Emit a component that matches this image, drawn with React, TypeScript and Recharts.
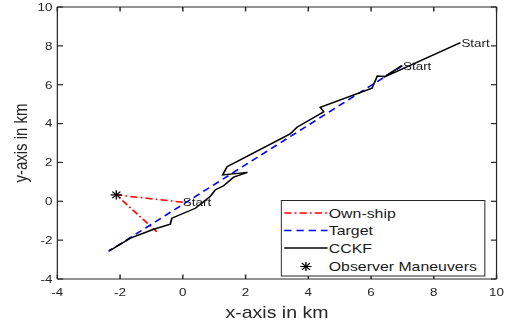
import { ComposedChart, Line, Scatter, XAxis, YAxis, Legend, ReferenceLine } from "recharts";

// ── data (km) ──────────────────────────────────────────────────────────────
const X_TICKS = [-4, -2, 0, 2, 4, 6, 8, 10];
const Y_TICKS = [-4, -2, 0, 2, 4, 6, 8, 10];

const OWN_SHIP = [
  { x: 0.0, y: -0.05 },
  { x: -2.12, y: 0.33 },
  { x: -0.83, y: -1.57 },
];

const TARGET = [
  { x: 7.0, y: 6.98 },
  { x: -2.37, y: -2.58 },
];

const CCKF = [
  { x: 8.85, y: 8.17 },
  { x: 6.4, y: 6.38 },
  { x: 6.98, y: 6.98 },
  { x: 6.45, y: 6.42 },
  { x: 6.2, y: 6.45 },
  { x: 6.03, y: 5.82 },
  { x: 4.38, y: 4.84 },
  { x: 4.49, y: 4.61 },
  { x: 3.64, y: 3.81 },
  { x: 3.42, y: 3.47 },
  { x: 1.83, y: 2.13 },
  { x: 1.41, y: 1.78 },
  { x: 1.27, y: 1.36 },
  { x: 2.06, y: 1.49 },
  { x: 1.62, y: 1.24 },
  { x: 1.3, y: 0.8 },
  { x: 1.03, y: 0.58 },
  { x: 0.87, y: 0.24 },
  { x: 0.4, y: -0.36 },
  { x: -0.35, y: -0.87 },
  { x: -0.4, y: -1.18 },
  { x: -0.93, y: -1.44 },
  { x: -1.67, y: -1.9 },
  { x: -2.26, y: -2.47 },
  { x: -2.34, y: -2.5 },
];

const MANEUVERS = [{ x: -2.12, y: 0.33 }];

const STARTS = [
  { x: 0.0, y: -0.03 },
  { x: 7.02, y: 6.97 },
  { x: 8.88, y: 8.15 },
];

const LEGEND_LABELS = ["Own-ship", "Target", "CCKF", "Observer Maneuvers"];

const X_MIN = -4;
const X_MAX = 10;
const Y_MIN = -4;
const Y_MAX = 10;

// ── styling ────────────────────────────────────────────────────────────────
const FONT = "'Liberation Sans', Arial, Helvetica, sans-serif";
const INK = "#262626";
const SX = 1.22; // the reference figure is stretched horizontally
const W = 414;
const H = 328;
// inward tick length, in axis units (about 4.5 px each way)
const TICK_DX = 0.18;
const TICK_DY = 0.23;

const RED_DASH = "6 2.5 1.5 2.5";
const BLUE_DASH = "6 4";

type Pt = { cx?: number; cy?: number };

function StarMark({ cx = 0, cy = 0 }: Pt) {
  const r = 4.6;
  const d = r * 0.72;
  return (
    <g stroke="#000" strokeWidth={1.1}>
      <line x1={cx - r} y1={cy} x2={cx + r} y2={cy} />
      <line x1={cx} y1={cy - r} x2={cx} y2={cy + r} />
      <line x1={cx - d} y1={cy - d} x2={cx + d} y2={cy + d} />
      <line x1={cx - d} y1={cy + d} x2={cx + d} y2={cy - d} />
    </g>
  );
}

function StartLabel({ cx = 0, cy = 0 }: Pt) {
  return (
    <text x={cx} y={cy} dy="0.36em" fontSize={11} fill="#1a1a1a" fontFamily={FONT}>
      Start
    </text>
  );
}

// ── MATLAB-ish legend box ──────────────────────────────────────────────────
function MatlabLegend() {
  const rows = [13, 30.5, 48, 66.5];
  const x0 = 3;
  const x1 = 38.5;
  const tx = 39.5;
  return (
    <svg width={168} height={77} style={{ display: "block" }}>
      <rect x={0.5} y={0.5} width={167} height={75.5} fill="#fff" stroke={INK} strokeWidth={1} />
      <line x1={x0} x2={x1} y1={rows[0]} y2={rows[0]} stroke="#ff0000" strokeWidth={1.5} strokeDasharray={RED_DASH} />
      <line x1={x0} x2={x1} y1={rows[1]} y2={rows[1]} stroke="#0000ff" strokeWidth={1.5} strokeDasharray={BLUE_DASH} />
      <line x1={x0} x2={x1} y1={rows[2]} y2={rows[2]} stroke="#000" strokeWidth={1.4} />
      <StarMark cx={(x0 + x1) / 2} cy={rows[3]} />
      {LEGEND_LABELS.map((label, i) => (
        <text key={label} x={tx} y={rows[i]} dy="0.36em" fontSize={13} fill="#1a1a1a" fontFamily={FONT}>
          {label}
        </text>
      ))}
    </svg>
  );
}

const tickStyle = { fill: INK, fontSize: 11, fontFamily: FONT };
const markStyle = { stroke: INK, strokeWidth: 1.2, ifOverflow: "visible" as const };

export default function App() {
  return (
    <div style={{ position: "absolute", left: 0, top: 0, width: 505, height: H, overflow: "hidden", background: "#fff" }}>
      <div style={{ width: W, height: H, transform: `scaleX(${SX})`, transformOrigin: "0 0" }}>
        <ComposedChart width={W} height={H} margin={{ top: 6, right: 6, bottom: 0, left: 0 }}>
          <XAxis
            dataKey="x"
            type="number"
            domain={[X_MIN, X_MAX]}
            ticks={X_TICKS}
            interval={0}
            allowDataOverflow
            height={49}
            stroke={INK}
            tickLine={false}
            tickSize={0}
            tickMargin={9}
            tick={tickStyle}
            label={{ value: "x-axis in km", position: "insideBottom", offset: 10, fontSize: 16, fill: INK, fontFamily: FONT }}
          />
          <XAxis
            xAxisId="top"
            orientation="top"
            dataKey="x"
            type="number"
            domain={[X_MIN, X_MAX]}
            ticks={X_TICKS}
            allowDataOverflow
            height={1}
            stroke={INK}
            tickLine={false}
            tick={false}
          />
          <YAxis
            dataKey="y"
            type="number"
            domain={[Y_MIN, Y_MAX]}
            ticks={Y_TICKS}
            interval={0}
            allowDataOverflow
            width={47}
            stroke={INK}
            tickLine={false}
            tickSize={0}
            tickMargin={4}
            tick={tickStyle}
            label={{
              content: () => (
                <text
                  x={17}
                  y={143}
                  transform="rotate(-90 17 143)"
                  textAnchor="middle"
                  dominantBaseline="central"
                  fontSize={15}
                  fill={INK}
                  fontFamily={FONT}
                >
                  y-axis in km
                </text>
              ),
            }}
          />
          <YAxis
            yAxisId="right"
            orientation="right"
            dataKey="y"
            type="number"
            domain={[Y_MIN, Y_MAX]}
            ticks={Y_TICKS}
            allowDataOverflow
            width={1}
            stroke={INK}
            tickLine={false}
            tick={false}
          />
          {X_TICKS.map((t) => (
            <ReferenceLine key={`b${t}`} segment={[{ x: t, y: Y_MIN }, { x: t, y: Y_MIN + TICK_DY }]} {...markStyle} />
          ))}
          {X_TICKS.map((t) => (
            <ReferenceLine key={`t${t}`} segment={[{ x: t, y: Y_MAX }, { x: t, y: Y_MAX - TICK_DY }]} {...markStyle} />
          ))}
          {Y_TICKS.map((t) => (
            <ReferenceLine key={`l${t}`} segment={[{ x: X_MIN, y: t }, { x: X_MIN + TICK_DX, y: t }]} {...markStyle} />
          ))}
          {Y_TICKS.map((t) => (
            <ReferenceLine key={`r${t}`} segment={[{ x: X_MAX, y: t }, { x: X_MAX - TICK_DX, y: t }]} {...markStyle} />
          ))}
          <Line
            data={OWN_SHIP}
            dataKey="y"
            type="linear"
            stroke="#ff0000"
            strokeWidth={1.5}
            strokeDasharray={RED_DASH}
            dot={false}
            activeDot={false}
            isAnimationActive={false}
          />
          <Line
            data={TARGET}
            dataKey="y"
            type="linear"
            stroke="#0000ff"
            strokeWidth={1.5}
            strokeDasharray={BLUE_DASH}
            dot={false}
            activeDot={false}
            isAnimationActive={false}
          />
          <Line
            data={CCKF}
            dataKey="y"
            type="linear"
            stroke="#000"
            strokeWidth={1.4}
            dot={false}
            activeDot={false}
            isAnimationActive={false}
          />
          <Scatter data={MANEUVERS} dataKey="y" shape={<StarMark />} isAnimationActive={false} />
          <Scatter data={STARTS} dataKey="y" shape={<StartLabel />} isAnimationActive={false} />
          <Legend
            layout="vertical"
            align="center"
            verticalAlign="middle"
            content={() => <MatlabLegend />}
            wrapperStyle={{ left: 229.5, top: 200, width: 168, height: 77 }}
          />
        </ComposedChart>
      </div>
    </div>
  );
}
